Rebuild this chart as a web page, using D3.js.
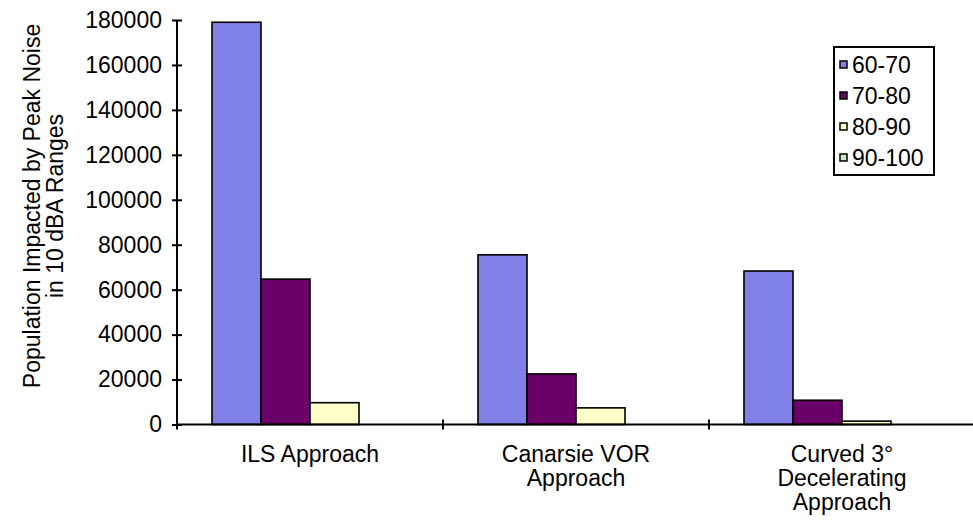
<!DOCTYPE html>
<html>
<head>
<meta charset="utf-8">
<script src="https://cdn.jsdelivr.net/npm/d3@7"></script>
<style>
  html, body { margin: 0; padding: 0; background: #fff; }
  svg { display: block; font-family: "Liberation Sans", Arial, sans-serif; }
</style>
</head>
<body>
<svg id="chart" width="973" height="524"></svg>
<script>
// Approach procedures compared
const categories = [["ILS Approach"], ["Canarsie VOR", "Approach"], ["Curved 3°", "Decelerating", "Approach"]];
// Noise bands (dBA)
const seriesNames = ["60-70", "70-80", "80-90", "90-100"];
const seriesColors = ["#8080E6", "#6B0068", "#FFFFCC", "#CCE8CC"];
// Population per band, one array per band, in category order
const band60_70 = [179000, 75500, 68300];
const band70_80 = [64700, 22500, 10800];
const band80_90 = [9700, 7400, 1500];
const band90_100 = [0, 0, 0];
const seriesValues = [band60_70, band70_80, band80_90, band90_100];
const yTicks = [0, 20000, 40000, 60000, 80000, 100000, 120000, 140000, 160000, 180000];

const FONT = 23;
const svg = d3.select("#chart");
const plotLeft = 177, plotRight = 975, plotTop = 20, plotBottom = 424.5;

const x0 = d3.scaleBand().domain(d3.range(categories.length)).range([plotLeft, plotRight]).paddingInner(0).paddingOuter(0);
const x1 = d3.scaleBand().domain(d3.range(seriesNames.length)).range([0, x0.bandwidth()]).paddingOuter(0.714).paddingInner(0);
const y = d3.scaleLinear().domain([0, 180000]).range([plotBottom, plotTop]);

// bars
const groups = svg.append("g").selectAll("g")
  .data(categories.map((c, i) => i))
  .join("g")
  .attr("transform", i => `translate(${x0(i)},0)`);

groups.selectAll("rect")
  .data(i => seriesValues.map((vals, s) => ({ s, v: vals[i] })).filter(d => d.v > 0))
  .join("rect")
  .attr("x", d => x1(d.s))
  .attr("width", x1.bandwidth())
  .attr("y", d => y(d.v))
  .attr("height", d => y(0) - y(d.v))
  .attr("fill", d => seriesColors[d.s])
  .attr("stroke", "#000")
  .attr("stroke-width", 1.6);

// y axis
const yAxis = svg.append("g")
  .attr("transform", `translate(${plotLeft},0)`)
  .call(d3.axisLeft(y).tickValues(yTicks).tickFormat(d3.format("d")).tickSize(5).tickPadding(10));
yAxis.select(".domain").remove();
yAxis.append("line").attr("x1", 0).attr("x2", 0).attr("y1", y(180000)).attr("y2", y(0))
  .attr("stroke", "#000").attr("stroke-width", 2);
yAxis.selectAll(".tick line").attr("x1", -5).attr("x2", 5).attr("stroke-width", 2);
yAxis.selectAll(".tick text").attr("font-size", FONT).attr("fill", "#000")
  .attr("font-family", "Liberation Sans, Arial, sans-serif");

// x axis
const xAxis = svg.append("g");
xAxis.append("line").attr("x1", plotLeft).attr("x2", plotRight).attr("y1", plotBottom).attr("y2", plotBottom)
  .attr("stroke", "#000").attr("stroke-width", 2);
xAxis.selectAll("line.tk")
  .data(d3.range(categories.length + 1))
  .join("line").attr("class", "tk")
  .attr("x1", i => i < categories.length ? x0(i) : plotRight)
  .attr("x2", i => i < categories.length ? x0(i) : plotRight)
  .attr("y1", plotBottom - 5).attr("y2", plotBottom + 5)
  .attr("stroke", "#000").attr("stroke-width", 2);

xAxis.selectAll("text.cat")
  .data(categories)
  .join("text").attr("class", "cat")
  .attr("x", (d, i) => x0(i) + x0.bandwidth() / 2)
  .attr("text-anchor", "middle")
  .attr("font-size", FONT)
  .attr("fill", "#000")
  .each(function(lines) {
    const t = d3.select(this);
    lines.forEach((ln, k) => {
      t.append("tspan").attr("x", t.attr("x")).attr("y", 462 + k * 24).text(ln);
    });
  });

// axis title
const title = svg.append("text")
  .attr("transform", "translate(0,206) rotate(-90)")
  .attr("text-anchor", "middle")
  .attr("font-size", FONT)
  .attr("fill", "#000");
title.append("tspan").attr("x", 0).attr("y", 40).text("Population Impacted by Peak Noise");
title.append("tspan").attr("x", 0).attr("y", 63).text("in 10 dBA Ranges");

// legend
const lg = svg.append("g");
lg.append("rect").attr("x", 834).attr("y", 47).attr("width", 100).attr("height", 128)
  .attr("fill", "#fff").attr("stroke", "#000").attr("stroke-width", 2);
const items = lg.selectAll("g.item").data(seriesNames).join("g").attr("class", "item")
  .attr("transform", (d, i) => `translate(0,${65 + i * 31})`);
items.append("rect").attr("x", 840).attr("y", -4).attr("width", 7).attr("height", 7)
  .attr("fill", (d, i) => seriesColors[i]).attr("stroke", "#000").attr("stroke-width", 1.5);
items.append("text").attr("x", 852).attr("y", 8).attr("font-size", FONT).attr("fill", "#000").text(d => d);
</script>
</body>
</html>
